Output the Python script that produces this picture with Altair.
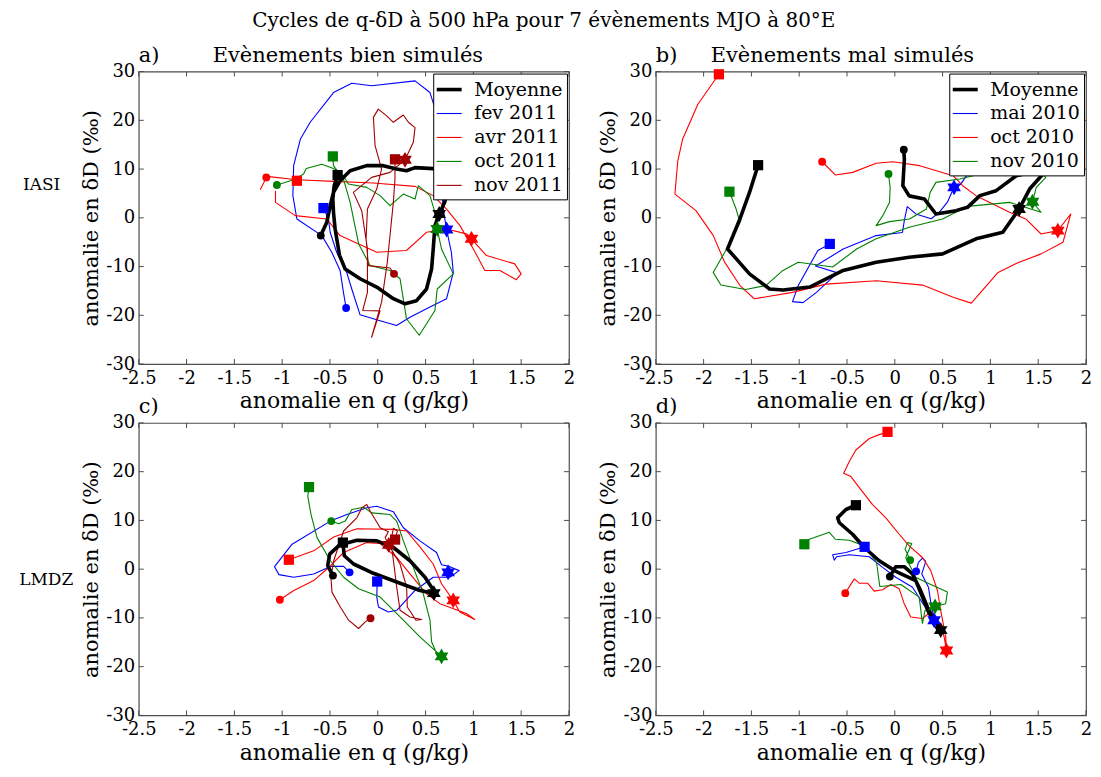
import altair as alt
import pandas as pd

FONT = "DejaVu Serif"
NB = "\u00a0"

MAIN_TITLE = "Cycles de q-\u03b4D \u00e0 500 hPa pour 7 \u00e9v\u00e8nements MJO \u00e0 80\u00b0E"
X_TITLE = "anomalie en q (g/kg)"
Y_TITLE = "anomalie en \u03b4D (\u2030)"
TITLE_A = "a)" + NB * 8 + "Ev\u00e8nements bien simul\u00e9s"
TITLE_B = "b)" + NB * 5 + "Ev\u00e8nements mal simul\u00e9s"
TITLE_C = "c)"
TITLE_D = "d)"
ROW1 = "IASI"
ROW2 = "LMDZ"

X_TICKS = [-2.5, -2, -1.5, -1, -0.5, 0, 0.5, 1, 1.5, 2]
Y_TICKS = [-30, -20, -10, 0, 10, 20, 30]

SERIES_GOOD = ["Moyenne", "fev 2011", "avr 2011", "oct 2011", "nov 2011"]
SERIES_BAD = ["Moyenne", "mai 2010", "oct 2010", "nov 2010"]
COLORS_GOOD = ["#000000", "#0000ff", "#ff0000", "#008000", "#a00000"]
COLORS_BAD = ["#000000", "#0000ff", "#ff0000", "#008000"]

# ---------------- panel a : IASI, bien simules ----------------
a_moy_q = [-0.596, -0.533, -0.498, -0.463, -0.394, -0.289, -0.116, 0.058, 0.197, 0.30, 0.39, 0.58, 0.70, 0.737, 0.70, 0.643, 0.598, 0.58, 0.563, 0.51, 0.406, 0.285, 0.163, -0.011, -0.185, -0.341, -0.40, -0.446, -0.463, -0.47, -0.456, -0.42]
a_moy_d = [-3.65, -0.92, 2.5, 5.22, 7.6, 9.66, 10.7, 10.7, 10.0, 9.66, 10.3, 10.1, 8.29, 5.9, 3.17, 0.78, -1.6, -6.4, -10.5, -14.6, -17.0, -17.65, -16.6, -14.2, -12.5, -10.5, -7.7, -2.3, 1.13, 3.85, 6.59, 8.77]
a_fev_q = [-0.331, -0.359, -0.394, -0.481, -0.585, -0.846, -0.888, -0.88, -0.81, -0.707, -0.463, -0.272, -0.064, 0.39, 0.546, 0.667, 0.667, 0.69, 0.72, 0.77, 0.79, 0.72, 0.546, 0.337, 0.197, 0.024, -0.185, -0.272, -0.325, -0.43, -0.498, -0.516, -0.568]
a_fev_d = [-18.5, -15.3, -10.8, -7.07, -3.65, -0.24, 4.55, 10.7, 16.1, 19.6, 25.7, 27.6, 27.1, 28.1, 25.7, 18.2, 5.9, 1.13, -2.4, -7.07, -11.2, -16.6, -18.3, -20.4, -22.1, -21.1, -19.9, -14.6, -11.2, -7.07, -2.97, -0.24, 2.0]
a_avr_q = [-1.229, -1.16, -0.846, -0.463, -0.046, 0.39, 0.58, 0.72, 0.86, 1.0, 1.12, 1.277, 1.45, 1.50, 1.433, 1.137, 0.98, 0.928, 0.72, 0.51, 0.30, -0.011, -0.394, -0.533, -0.863, -1.07, -1.07]
a_avr_d = [5.77, 8.5, 7.82, 7.47, 7.13, 6.45, 4.55, 1.8, -1.6, -6.4, -10.8, -10.8, -12.7, -11.5, -9.45, -7.75, -4.3, -3.3, -2.3, -2.97, -6.7, -7.07, -3.65, -0.24, 0.44, 3.17, 5.57]
a_oct_q = [-1.055, -0.88, -0.776, -0.748, -0.585, -0.463, -0.359, -0.307, -0.116, 0.024, 0.128, 0.267, 0.39, 0.424, 0.546, 0.598, 0.622, 0.667, 0.79, 0.622, 0.598, 0.434, 0.30, 0.233, 0.128, -0.08, -0.20, -0.289, -0.359, -0.463, -0.47]
a_oct_d = [6.73, 7.82, 8.98, 10.1, 11.0, 10.1, 8.64, 6.93, 6.25, 4.55, 2.5, 4.87, 3.85, 6.59, 4.55, 1.13, -2.3, -6.4, -11.5, -14.6, -19.0, -24.1, -20.7, -12.5, -10.8, -9.8, -5.36, 3.17, 7.95, 10.7, 12.6]
a_nov_q = [0.17, 0.128, -0.098, -0.122, -0.108, -0.011, 0.04, -0.028, -0.046, 0.006, 0.093, 0.163, 0.267, 0.32, 0.39, 0.372, 0.285, 0.128, -0.064, -0.255, -0.168, -0.108, -0.108, -0.157, 0.024, -0.064, 0.04, 0.10, 0.135, 0.163, 0.18, 0.18]
a_nov_d = [-11.5, -10.3, -9.8, -4.3, 1.8, 5.9, 10.0, 14.8, 20.6, 22.3, 20.9, 19.6, 21.1, 19.6, 18.5, 15.5, 11.9, 9.32, 8.29, 5.22, 1.47, -6.4, -15.3, -19.0, -19.1, -24.5, -17.3, -9.1, -2.3, 3.17, 7.95, 12.0]
# markers (series order: Moyenne, fev, avr, oct, nov)
a_circle_q = [-0.596, -0.331, -1.166, -1.055, 0.17]
a_circle_d = [-3.65, -18.5, 8.29, 6.73, -11.5]
a_star_q = [0.643, 0.72, 0.98, 0.622, 0.285]
a_star_d = [0.78, -2.4, -4.3, -2.3, 11.9]
a_square_q = [-0.42, -0.568, -0.846, -0.47, 0.18]
a_square_d = [8.77, 2.0, 7.6, 12.6, 12.0]

# ---------------- panel b : IASI, mal simules ----------------
b_moy_q = [0.094, 0.10, 0.084, 0.15, 0.31, 0.43, 0.64, 0.76, 0.89, 1.06, 1.27, 1.51, 1.55, 1.41, 1.30, 1.13, 0.85, 0.50, 0.15, -0.195, -0.54, -0.89, -1.17, -1.31, -1.52, -1.69, -1.75, -1.62, -1.52, -1.43]
b_moy_d = [13.96, 12.0, 6.6, 4.5, 3.85, 0.78, 1.47, 2.15, 4.55, 5.57, 8.64, 9.66, 8.98, 5.9, 1.8, -2.97, -4.3, -7.4, -8.1, -9.1, -10.8, -14.2, -14.8, -14.6, -11.5, -7.7, -6.4, -0.24, 5.2, 10.8]
b_mai_q = [0.90, 0.80, 0.69, 0.62, 0.55, 0.46, 0.38, 0.22, 0.13, 0.10, 0.08, -0.195, -0.54, -0.83, -0.60, -0.82, -0.96, -1.07, -1.01, -0.805, -0.68]
b_mai_d = [14.5, 10.1, 6.9, 6.25, 3.2, 1.0, -0.2, 0.8, 2.3, -0.5, -3.0, -3.65, -6.4, -9.9, -11.3, -15.3, -17.4, -17.2, -13.9, -6.7, -5.36]
b_oct_q = [-0.76, -0.62, -0.44, -0.195, -0.02, 0.26, 0.61, 0.71, 0.85, 1.20, 1.37, 1.53, 1.705, 1.84, 1.76, 1.53, 1.30, 1.08, 0.80, 0.61, 0.29, -0.195, -0.72, -1.07, -1.47, -1.62, -1.78, -1.90, -2.08, -2.30, -2.27, -2.22, -2.06, -1.84]
b_oct_d = [11.5, 8.77, 9.32, 11.2, 11.5, 10.7, 8.64, 6.59, 4.55, 1.13, -0.24, -3.32, -2.63, 0.78, -5.0, -7.4, -9.1, -11.2, -17.5, -16.3, -13.8, -12.9, -13.6, -15.3, -16.6, -13.9, -9.1, -3.6, 1.47, 4.87, 11.7, 16.1, 23.3, 29.45]
b_nov_q = [-0.066, -0.049, -0.055, -0.126, -0.195, -0.055, 0.154, 0.33, 0.37, 0.43, 0.68, 0.85, 1.20, 1.51, 1.58, 1.48, 1.44, 1.53, 1.20, 0.76, 0.50, 0.15, -0.195, -0.40, -0.65, -1.01, -1.17, -1.35, -1.56, -1.82, -1.90, -1.78, -1.62, -1.66, -1.73]
b_nov_d = [8.98, 6.25, 3.17, 0.44, -1.6, -0.78, -0.24, 1.8, 5.22, 7.27, 7.95, 8.77, 9.32, 9.46, 8.29, 6.25, 3.3, 1.13, 3.17, 2.35, -0.24, -1.95, -4.3, -6.4, -10.1, -9.1, -10.8, -13.9, -14.7, -13.8, -11.2, -7.1, -0.92, 1.8, 5.36]
b_circle_q = [0.094, 0.90, -0.76, -0.066]
b_circle_d = [13.96, 14.5, 11.5, 8.98]
b_star_q = [1.30, 0.62, 1.705, 1.44]
b_star_d = [1.8, 6.25, -2.63, 3.3]
b_square_q = [-1.43, -0.68, -1.84, -1.73]
b_square_d = [10.8, -5.36, 29.45, 5.36]

# ---------------- panel c : LMDZ, bien simules ----------------
c_moy_q = [-0.469, -0.524, -0.503, -0.399, -0.219, -0.01, 0.164, 0.337, 0.494, 0.573, 0.587, 0.441, 0.233, -0.045, -0.253, -0.35, -0.365]
c_moy_d = [-1.32, 0.71, 3.09, 4.98, 5.93, 5.8, 4.44, 1.73, -1.66, -4.03, -4.92, -4.37, -2.88, -0.85, 1.06, 2.75, 5.45]
c_fev_q = [-0.295, -0.357, -0.496, -0.67, -0.878, -1.034, -1.08, -0.896, -0.496, -0.323, -0.115, -0.01, 0.164, 0.268, 0.441, 0.615, 0.667, 0.747, 0.851, 0.754, 0.58, 0.39, 0.198, 0.111, 0.007, -0.01, -0.006]
c_fev_d = [-0.65, 0.57, 0.57, -1.0, -1.67, -1.12, 0.51, 5.12, 9.86, 11.2, 12.6, 12.9, 11.76, 8.5, 5.8, 3.42, 0.92, 0.57, -0.3, -1.66, -1.66, -4.37, -8.44, -8.78, -7.76, -5.73, -2.54]
c_avr_q = [-1.024, -0.878, -0.67, -0.531, -0.357, -0.115, 0.025, 0.198, 0.337, 0.51, 0.65, 0.927, 1.014, 0.858, 0.789, 0.667, 0.58, 0.441, 0.302, 0.164, -0.219, -0.461, -0.67, -0.93]
c_avr_d = [-6.27, -4.37, -2.34, 0.03, 3.42, 5.45, 5.25, 2.4, -0.98, -5.05, -7.08, -9.11, -10.33, -8.78, -6.4, -3.0, 1.06, 4.58, 7.83, 8.17, 8.3, 6.61, 3.76, 1.93]
c_oct_q = [-0.486, -0.41, -0.34, -0.271, -0.149, -0.063, 0.129, 0.198, 0.268, 0.372, 0.476, 0.546, 0.563, 0.615, 0.667, 0.441, 0.268, 0.025, -0.201, -0.357, -0.496, -0.635, -0.698, -0.732, -0.719]
c_oct_d = [9.86, 9.32, 9.86, 12.24, 12.71, 11.55, 11.2, 9.86, 5.8, 0.37, -5.05, -10.47, -14.9, -17.25, -17.9, -13.9, -10.47, -5.73, -4.03, -1.66, 1.73, 6.47, 11.2, 14.95, 16.84]
c_nov_q = [-0.076, -0.131, -0.201, -0.305, -0.392, -0.479, -0.49, -0.461, -0.357, -0.219, -0.167, -0.115, -0.079, 0.025, 0.111, 0.077, 0.115, 0.233, 0.302, 0.309, 0.4, 0.459, 0.337, 0.233, 0.198, 0.164, 0.136, 0.164, 0.205, 0.181]
c_nov_d = [-10.07, -10.82, -12.17, -10.47, -7.76, -4.71, -1.66, 1.73, 7.83, 10.54, 12.57, 13.25, 11.9, 8.5, 7.69, 6.47, 4.98, 1.06, -3.7, -7.76, -10.47, -10.33, -9.8, -8.44, -3.7, 1.73, 5.8, 8.38, 7.83, 6.07]
c_circle_q = [-0.469, -0.295, -1.024, -0.486, -0.076]
c_circle_d = [-1.32, -0.65, -6.27, 9.86, -10.07]
c_star_q = [0.587, 0.736, 0.789, 0.667, 0.115]
c_star_d = [-4.92, -0.65, -6.4, -17.9, 4.98]
c_square_q = [-0.365, -0.006, -0.93, -0.719, 0.181]
c_square_d = [5.45, -2.54, 1.93, 16.84, 6.07]

# ---------------- panel d : LMDZ, mal simules ----------------
d_moy_q = [-0.052, 0.01, 0.098, 0.185, 0.261, 0.341, 0.422, 0.48, 0.36, 0.219, 0.01, -0.163, -0.319, -0.442, -0.58, -0.598, -0.511, -0.407]
d_moy_d = [-1.53, 0.51, 0.51, -0.98, -4.03, -7.76, -10.8, -12.5, -9.1, -2.34, -0.44, 1.73, 4.44, 7.16, 9.52, 10.54, 12.24, 13.12]
d_mai_q = [0.223, 0.247, 0.289, 0.324, 0.282, 0.352, 0.376, 0.401, 0.411, 0.317, 0.185, 0.01, -0.128, -0.267, -0.476, -0.609, -0.633, -0.65, -0.511, -0.316]
d_mai_d = [-0.44, 1.38, 2.28, 1.59, -0.98, -3.7, -6.75, -9.1, -10.47, -7.76, -3.7, -1.66, 0.37, 2.54, 2.95, 2.54, 1.86, 2.95, 3.42, 4.58]
d_oct_q = [-0.518, -0.424, -0.372, -0.285, -0.215, -0.128, -0.042, 0.046, 0.098, 0.167, 0.289, 0.376, 0.463, 0.516, 0.54, 0.532, 0.48, 0.446, 0.376, 0.289, 0.15, 0.046, -0.094, -0.233, -0.355, -0.459, -0.535, -0.476, -0.407, -0.267, -0.163, -0.076]
d_oct_d = [-4.92, -2.0, -2.88, -2.88, -4.51, -4.24, -3.15, -4.03, -7.08, -9.8, -10.13, -8.78, -11.15, -13.87, -16.7, -13.87, -8.44, -4.37, -0.3, 2.4, 4.78, 7.16, 10.54, 13.25, 16.3, 19.0, 19.7, 22.1, 24.45, 26.8, 27.6, 28.17]
d_nov_q = [0.161, 0.108, 0.133, 0.177, 0.115, 0.219, 0.359, 0.55, 0.532, 0.421, 0.317, 0.289, 0.255, 0.063, -0.157, -0.191, -0.319, -0.476, -0.622, -0.685, -0.894, -0.946]
d_nov_d = [1.86, 4.1, 5.45, 5.25, 2.4, -1.66, -3.0, -4.71, -7.08, -7.63, -8.44, -11.15, -5.73, -3.15, -3.56, 1.38, 4.78, 5.93, 6.14, 7.56, 6.14, 5.11]
d_circle_q = [-0.052, 0.223, -0.518, 0.161]
d_circle_d = [-1.53, -0.44, -4.92, 1.86]
d_star_q = [0.48, 0.411, 0.54, 0.421]
d_star_d = [-12.5, -10.47, -16.7, -7.63]
d_square_q = [-0.407, -0.316, -0.076, -0.946]
d_square_d = [13.12, 4.58, 28.17, 5.11]

STAR = ("M0,-1L0.289,-0.5L0.866,-0.5L0.577,0L0.866,0.5L0.289,0.5L0,1"
        "L-0.289,0.5L-0.866,0.5L-0.577,0L-0.866,-0.5L-0.289,-0.5Z")
LEG_LINE = "M-1.25,0L1.25,0"
KINDS = ["debut", "milieu", "fin"]

W, H = 431, 293
FRAME = "#4d4d4d"


def lines_df(series, qs, ds):
    rows = []
    for s, ql, dl in zip(series, qs, ds):
        for i, (q, d) in enumerate(zip(ql, dl)):
            rows.append({"series": s, "q": q, "d": d, "i": i})
    return pd.DataFrame(rows)


def marks_df(series, cq, cd, sq_, sd_, qq, qd):
    rows = []
    for j, s in enumerate(series):
        rows.append({"series": s, "kind": "debut", "q": cq[j], "d": cd[j]})
        rows.append({"series": s, "kind": "fin", "q": qq[j], "d": qd[j]})
        rows.append({"series": s, "kind": "milieu", "q": sq_[j], "d": sd_[j]})
    return pd.DataFrame(rows)


def panel(ldf, mdf, series, colors, title, legend):
    xs = alt.Scale(domain=[-2.5, 2], nice=False, zero=False)
    ys = alt.Scale(domain=[-30, 30], nice=False, zero=False)
    xaxis = alt.Axis(values=X_TICKS, title=X_TITLE, ticks=False, domain=False, grid=False,
                     labelExpr="'' + datum.value", labelFlush=False, labelOverlap=False,
                     labelPadding=5, titlePadding=4, titleFontSize=22)
    yaxis = alt.Axis(values=Y_TICKS, title=Y_TITLE, ticks=False, domain=False, grid=False,
                     labelExpr="'' + datum.value", labelFlush=False, labelOverlap=False,
                     labelPadding=4, titlePadding=4)
    X = alt.X("q:Q", scale=xs, axis=xaxis)
    Y = alt.Y("d:Q", scale=ys, axis=yaxis)
    cscale = alt.Scale(domain=series, range=colors)
    wscale = alt.Scale(type="ordinal", domain=series, range=[3.6] + [1.1] * (len(series) - 1))
    if legend:
        leg = alt.Legend(orient="top-right", offset=2, title=None, symbolType=LEG_LINE,
                         symbolSize=400, labelFont=FONT, labelFontSize=19, labelColor="black",
                         strokeColor="black", fillColor="white", padding=4, rowPadding=3,
                         labelOffset=13, cornerRadius=0)
    else:
        leg = None
    enc = dict(x=X, y=Y,
               color=alt.Color("series:N", scale=cscale, legend=leg),
               strokeWidth=alt.StrokeWidth("series:N", scale=wscale, legend=leg),
               order=alt.Order("i:Q"), detail="series:N")
    thin = alt.Chart(ldf[ldf.series != "Moyenne"]).mark_line(strokeJoin="round").encode(**enc)
    mean = alt.Chart(ldf[ldf.series == "Moyenne"]).mark_line(strokeJoin="round", strokeCap="round").encode(**enc)
    pts = alt.Chart(mdf).mark_point(filled=True, opacity=1, strokeWidth=0).encode(
        x=X, y=Y,
        fill=alt.Fill("series:N", scale=alt.Scale(domain=series, range=colors), legend=None),
        shape=alt.Shape("kind:N", scale=alt.Scale(domain=KINDS, range=["circle", STAR, "square"]), legend=None),
        size=alt.Size("kind:N", scale=alt.Scale(type="ordinal", domain=KINDS, range=[62, 250, 105]), legend=None),
    )
    txdf = pd.DataFrame({"q": X_TICKS})
    tydf = pd.DataFrame({"d": Y_TICKS})
    t1 = alt.Chart(txdf).mark_rule(color=FRAME, strokeWidth=1).encode(x=X, y=alt.value(0), y2=alt.value(5))
    t2 = alt.Chart(txdf).mark_rule(color=FRAME, strokeWidth=1).encode(x=X, y=alt.value(H), y2=alt.value(H - 5))
    t3 = alt.Chart(tydf).mark_rule(color=FRAME, strokeWidth=1).encode(y=Y, x=alt.value(0), x2=alt.value(5))
    t4 = alt.Chart(tydf).mark_rule(color=FRAME, strokeWidth=1).encode(y=Y, x=alt.value(W), x2=alt.value(W - 5))
    return alt.layer(thin, mean, pts, t1, t2, t3, t4).properties(
        width=W, height=H,
        title=alt.TitleParams(title, anchor="start", frame="group", font=FONT, fontSize=21,
                              fontWeight="normal", color="black", offset=-3, dx=0),
    )


pa = panel(lines_df(SERIES_GOOD, [a_moy_q, a_fev_q, a_avr_q, a_oct_q, a_nov_q], [a_moy_d, a_fev_d, a_avr_d, a_oct_d, a_nov_d]),
           marks_df(SERIES_GOOD, a_circle_q, a_circle_d, a_star_q, a_star_d, a_square_q, a_square_d),
           SERIES_GOOD, COLORS_GOOD, TITLE_A, True)
pb = panel(lines_df(SERIES_BAD, [b_moy_q, b_mai_q, b_oct_q, b_nov_q], [b_moy_d, b_mai_d, b_oct_d, b_nov_d]),
           marks_df(SERIES_BAD, b_circle_q, b_circle_d, b_star_q, b_star_d, b_square_q, b_square_d),
           SERIES_BAD, COLORS_BAD, TITLE_B, True)
pc = panel(lines_df(SERIES_GOOD, [c_moy_q, c_fev_q, c_avr_q, c_oct_q, c_nov_q], [c_moy_d, c_fev_d, c_avr_d, c_oct_d, c_nov_d]),
           marks_df(SERIES_GOOD, c_circle_q, c_circle_d, c_star_q, c_star_d, c_square_q, c_square_d),
           SERIES_GOOD, COLORS_GOOD, TITLE_C, False)
pd_ = panel(lines_df(SERIES_BAD, [d_moy_q, d_mai_q, d_oct_q, d_nov_q], [d_moy_d, d_mai_d, d_oct_d, d_nov_d]),
            marks_df(SERIES_BAD, d_circle_q, d_circle_d, d_star_q, d_star_d, d_square_q, d_square_d),
            SERIES_BAD, COLORS_BAD, TITLE_D, False)


def row_title(text, dx, dy):
    return alt.TitleParams(text, orient="left", angle=0, align="left", baseline="middle",
                           anchor="middle", font=FONT, fontSize=17, fontWeight="normal",
                           color="black", offset=7, dx=dx, dy=dy)


row1 = alt.hconcat(pa, pb, spacing=87, bounds="flush", title=row_title(ROW1, -13, -43)).resolve_scale(
    color="independent", strokeWidth="independent", fill="independent")
row2 = alt.hconcat(pc, pd_, spacing=87, bounds="flush", title=row_title(ROW2, 0, 0)).resolve_scale(
    color="independent", strokeWidth="independent", fill="independent")

chart = alt.vconcat(row1, row2, spacing=-18,
                    title=alt.TitleParams(MAIN_TITLE, anchor="middle", font=FONT, fontSize=20,
                                          fontWeight="normal", color="black", offset=13, dx=-12)
                    ).resolve_scale(color="independent", strokeWidth="independent", fill="independent"
                    ).properties(padding={"left": 11, "top": 2, "right": 0, "bottom": 2}
                    ).configure_view(stroke=FRAME, strokeWidth=1.2
                    ).configure_axis(labelFont=FONT, titleFont=FONT, labelFontSize=18, titleFontSize=21,
                                     titleFontWeight="normal", labelColor="black", titleColor="black")

chart.save("out.html", embed_options={"renderer": "svg", "actions": False})
